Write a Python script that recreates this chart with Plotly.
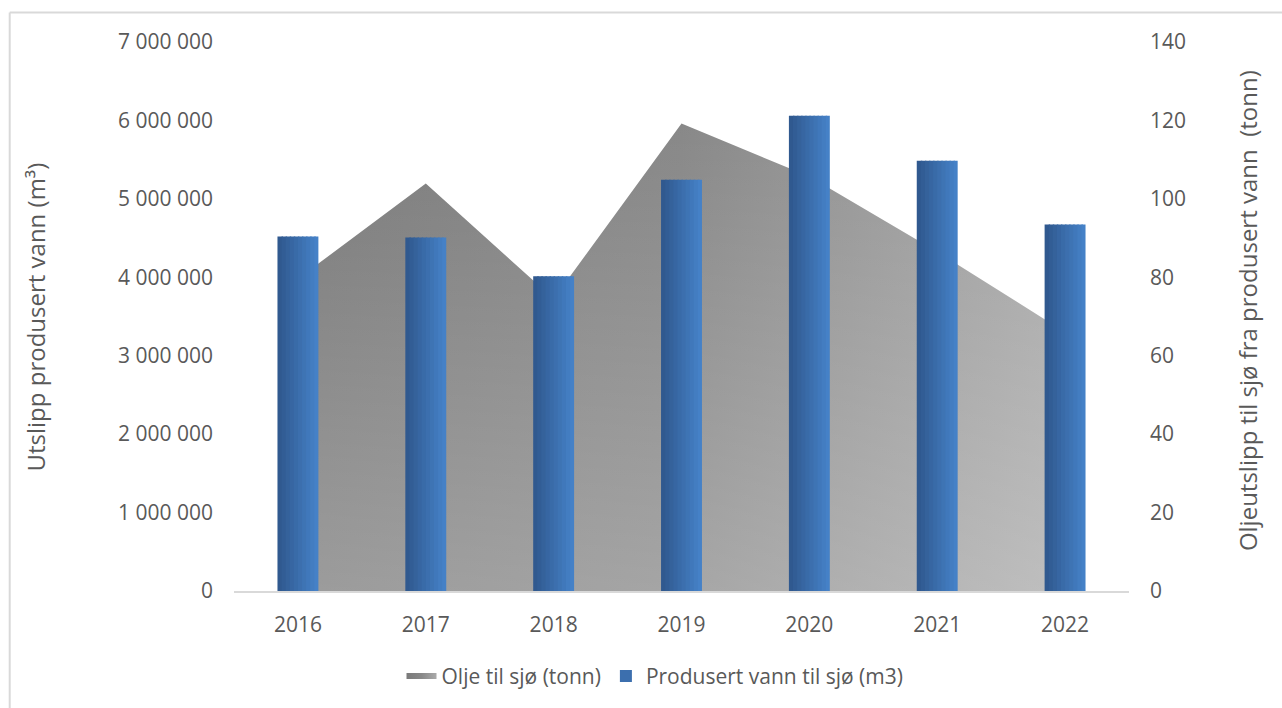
import plotly.graph_objects as go

years = ["2016", "2017", "2018", "2019", "2020", "2021", "2022"]
olje_tonn = [79.6, 103.9, 74.5, 119.2, 105.7, 86.5, 66.0]
vann_m3 = [4520000, 4508000, 4012000, 5245000, 6059000, 5487000, 4673000]

left_ticks = [0, 1000000, 2000000, 3000000, 4000000, 5000000, 6000000, 7000000]
left_labels = ["0", "1 000 000", "2 000 000", "3 000 000", "4 000 000",
               "5 000 000", "6 000 000", "7 000 000"]
right_ticks = [0, 20, 40, 60, 80, 100, 120, 140]

name_olje = "Olje til sjø (tonn)"
name_vann = "Produsert vann til sjø (m3)"
title_left = "Utslipp produsert vann (m³)"
title_right = "Oljeutslipp til sjø fra produsert vann  (tonn)"

TXT = "#595959"
FONT = "Open Sans"
FS = 21
FS_TITLE = 24

fig = go.Figure()

# Area (oil) on primary y (drawn below), right side
fig.add_trace(go.Scatter(
    x=years, y=olje_tonn, name=name_olje, mode="none", fill="tozeroy",
    fillgradient=dict(type="horizontal",
                      colorscale=[[0, "#7a7a7a"], [0.5, "#888888"], [1, "#aaaaaa"]]),
    yaxis="y", legendrank=1, hoverinfo="skip"))
fig.add_trace(go.Scatter(
    x=years, y=olje_tonn, mode="none", fill="tozeroy", showlegend=False,
    fillgradient=dict(type="vertical", start=0, stop=120,
                      colorscale=[[0, "rgba(255,255,255,0.25)"], [1, "rgba(255,255,255,0)"]]),
    yaxis="y", hoverinfo="skip"))

# Bars (water) on overlaying y2 (drawn on top), left side; horizontal gradient slices
n = 10
c0 = (0x30, 0x59, 0x8f)
c1 = (0x45, 0x81, 0xc7)
full_w = 0.32
step = full_w / n
for i in range(n):
    t = i / (n - 1)
    col = "rgb(%d,%d,%d)" % tuple(round(a + (b - a) * t) for a, b in zip(c0, c1))
    w = step * (1.35 if i < n - 1 else 1.0)
    fig.add_trace(go.Bar(
        x=years, y=vann_m3, name=name_vann, yaxis="y2",
        width=w, offset=-full_w / 2 + i * step,
        marker=dict(color=col, line=dict(width=0)),
        showlegend=(i == n // 2), legendgroup="vann", legendrank=2,
        hoverinfo="skip"))

fig.update_layout(
    width=1282, height=708,
    margin=dict(l=234, r=152.5, t=42, b=115.5),
    paper_bgcolor="white", plot_bgcolor="white",
    font=dict(family=FONT, size=FS, color=TXT),
    barmode="overlay",
    showlegend=True,
    legend=dict(orientation="h", x=0.4704, xanchor="center", y=-0.1535, yanchor="middle",
                font=dict(family=FONT, size=FS, color=TXT), itemwidth=30,
                traceorder="normal", bgcolor="rgba(0,0,0,0)"),
    xaxis=dict(type="category", showgrid=False, zeroline=False, showline=True,
               linecolor="#d9d9d9", linewidth=1.5, ticks="", ticklabelstandoff=14,
               tickfont=dict(family=FONT, size=FS, color=TXT)),
    yaxis=dict(side="right", range=[0, 140], tickvals=right_ticks,
               showgrid=False, zeroline=False, showline=False, ticks="",
               ticklabelstandoff=20, tickfont=dict(family=FONT, size=FS, color=TXT)),
    yaxis2=dict(side="left", overlaying="y", range=[0, 7000000], tickvals=left_ticks,
                ticktext=left_labels, showgrid=False, zeroline=False, showline=False,
                ticks="", ticklabelstandoff=20,
                tickfont=dict(family=FONT, size=FS, color=TXT)),
    annotations=[
        dict(text=title_left, xref="paper", yref="paper", x=-0.2221, y=0.4986,
             textangle=-90, showarrow=False, xanchor="center", yanchor="middle",
             font=dict(family=FONT, size=FS_TITLE, color=TXT)),
        dict(text=title_right, xref="paper", yref="paper", x=1.1317, y=0.5114,
             textangle=-90, showarrow=False, xanchor="center", yanchor="middle",
             font=dict(family=FONT, size=FS_TITLE, color=TXT)),
    ],
    shapes=[
        dict(type="line", xref="paper", yref="paper", x0=-0.2506, x1=1.3,
             y0=1.0536, y1=1.0536, line=dict(color="#d9d9d9", width=2)),
        dict(type="line", xref="paper", yref="paper", x0=-0.2506, x1=-0.2506,
             y0=1.0536, y1=-0.3, line=dict(color="#d9d9d9", width=2)),
    ],
)

fig.write_html("out.html")
